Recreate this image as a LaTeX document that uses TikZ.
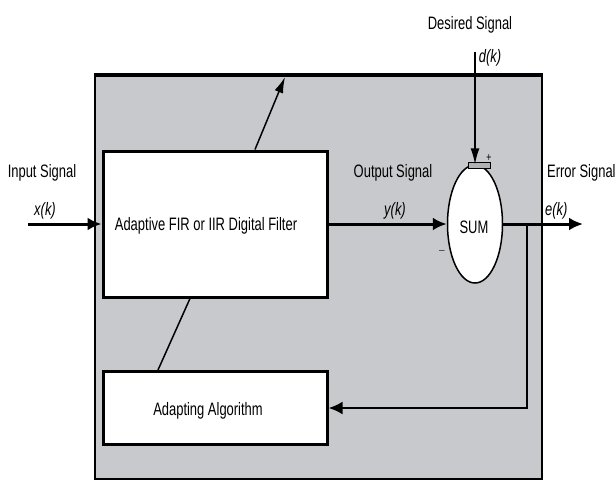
\documentclass[tikz,border=0pt]{standalone}
\usepackage{fontspec}
\setmainfont{Liberation Sans}[FakeStretch=0.72]
\usetikzlibrary{arrows.meta,shapes.geometric}
\definecolor{panelgray}{RGB}{200,201,204}

\begin{document}
\begin{tikzpicture}[x=1pt,y=-1pt,
  lbl/.style={font=\fontsize{18}{20}\selectfont, inner sep=0pt},
  blk/.style={draw, fill=white, line width=3pt, inner sep=0pt},
  bigtip/.style={-{Latex[length=14pt,width=13pt]}},
  thintip/.style={-{Latex[length=16pt,width=9pt]}}]
\useasboundingbox (0,0) rectangle (616,482);
% grey panel
\fill[panelgray] (95,75) rectangle (542,479);
\draw[line width=2pt] (95,75) -- (95,479) -- (542,479) -- (542,75);
\draw[line width=4.5pt] (94,75) -- (543,75);

% blocks
\node[blk, minimum width=224, minimum height=146] (filt) at (215,224) {};
\node[blk, minimum width=224, minimum height=73] (algo) at (215,408) {};
\node[draw, ellipse, fill=white, line width=1.5pt, minimum width=55, minimum height=118, inner sep=0pt] (sum) at (475,224) {};
\filldraw[fill=gray!60, line width=1pt] (468,162) rectangle (490,168);

\node[lbl] (filttxt) at (206,226) {Adaptive FIR or IIR Digital Filter};
\node[lbl] (algotxt) at (208,411) {Adapting Algorithm};
\node[lbl] (sumtxt) at (474,227) {SUM};

% signals
\coordinate (xin) at (28,224);
\coordinate (eout) at (583,224);
\coordinate (dsrc) at (475,52);
\coordinate (tap) at (527,224);
\coordinate (tune) at (285,77);

\draw[bigtip, line width=3pt] (xin) -- (filt.west);
\draw[bigtip, line width=3pt] (filt.east) -- (sum.west);
\draw[bigtip, line width=3pt] (sum.east) -- (eout);
\draw[thintip, line width=1.5pt] (dsrc) -- (sum.north);
\draw[bigtip, line width=2.5pt] (tap) |- (algo.east);
\draw[thintip, line width=1.5pt] ([xshift=40pt]filt.north) -- (tune);
\draw[line width=1.5pt] ([xshift=-25pt]filt.south) -- ([xshift=-57pt]algo.north);

% labels
\node[lbl] (inlbl) at (42,173) {Input Signal};
\node[lbl] (inx) at (45,211) {\textit{x(k)}};
\node[lbl] (outlbl) at (393,173) {Output Signal};
\node[lbl] (outy) at (395,211) {\textit{y(k)}};
\node[lbl, anchor=west] (errlbl) at (547,173) {Error Signal};
\node[lbl, anchor=west] (erre) at (545,211) {\textit{e(k)}};
\node[lbl] (dlbl) at (470,25) {Desired Signal};
\node[lbl] (dd) at (490,58) {\textit{d(k)}};
\node[font=\fontsize{12}{12}\selectfont, inner sep=0pt] (plus) at (489,158) {+};
\node[font=\fontsize{14}{14}\selectfont, text=gray!60!black, inner sep=0pt] (minus) at (442,252) {–};
\end{tikzpicture}
\end{document}
